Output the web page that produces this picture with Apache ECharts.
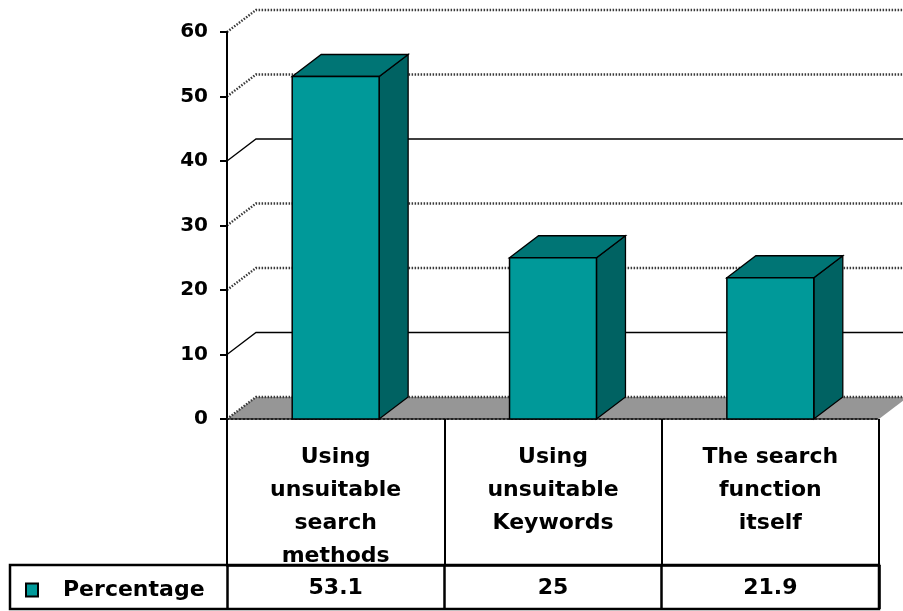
<!DOCTYPE html>
<html><head><meta charset="utf-8">
<script src="https://cdn.jsdelivr.net/npm/echarts@6/dist/echarts.min.js"></script>
<style>html,body{margin:0;padding:0;background:#fff}#c{width:903px;height:611px}</style>
</head><body><div id="c"></div>
<script>
// ---- data ----
const categories = ['Using\nunsuitable\nsearch\nmethods', 'Using\nunsuitable\nKeywords', 'The search\nfunction\nitself'];
const seriesName = 'Percentage';
const values = [53.1, 25, 21.9];
const valueLabels = ['53.1', '25', '21.9'];
const yTicks = [0, 10, 20, 30, 40, 50, 60];

// ---- styling ----
const DX = 29, DY = 22;
const FONT = 'DejaVu Sans';
const dottedTicks = [0, 20, 30, 50, 60];

const chart = echarts.init(document.getElementById('c'), null, {renderer: 'canvas'});

function wallItem(params, api) {
  const v = api.value(1);
  const cs = params.coordSys;
  const y = api.coord([0, v])[1];
  const x0 = cs.x, x1 = cs.x + cs.width;
  const children = [];
  if (v === 0) {
    children.push({type: 'polygon', shape: {points: [[x0, y], [x1, y], [x1 + DX, y - DY], [x0 + DX, y - DY]]},
      style: {fill: '#969696', stroke: null}});
  }
  const dotted = dottedTicks.indexOf(v) >= 0;
  children.push({type: 'polyline', shape: {points: [[x0, y], [x0 + DX, y - DY], [x1 + DX + 40, y - DY]]},
    style: {stroke: dotted ? '#3a3a3a' : '#000', lineWidth: dotted ? 2.4 : 1.3, lineDash: dotted ? [1.5, 1.5] : null, fill: null}});
  return {type: 'group', children};
}

function barItem(params, api) {
  const idx = api.value(0), v = api.value(1);
  const top = api.coord([idx, v]), base = api.coord([idx, 0]);
  const w = api.size([1, 0])[0] * 0.4;
  const xl = top[0] - w / 2, xr = top[0] + w / 2;
  const yt = top[1], yb = base[1];
  const stroke = '#000';
  return {type: 'group', children: [
    {type: 'polygon', shape: {points: [[xr, yt], [xr + DX, yt - DY], [xr + DX, yb - DY], [xr, yb]]},
      style: {fill: '#006262', stroke, lineWidth: 1.3}},
    {type: 'polygon', shape: {points: [[xl, yt], [xl + DX, yt - DY], [xr + DX, yt - DY], [xr, yt]]},
      style: {fill: '#007575', stroke, lineWidth: 1.3}},
    {type: 'rect', shape: {x: xl, y: yt, width: w, height: yb - yt},
      style: {fill: '#009999', stroke, lineWidth: 1.5}}
  ]};
}

const labelFont = {fontFamily: FONT, fontWeight: 'bold', fontSize: 22, color: '#000'};

chart.setOption({
  animation: false,
  backgroundColor: '#fff',
  grid: {left: 227, right: 24, top: 32, bottom: 192, containLabel: false},
  legend: {
    data: [{name: seriesName, icon: 'rect', itemStyle: {color: '#009999', borderColor: '#000', borderWidth: 2}}],
    left: 20, top: 574, itemWidth: 12, itemHeight: 13, z: 20,
    textStyle: Object.assign({}, labelFont, {padding: [0, 0, 0, 20]})
  },
  xAxis: [{
    type: 'category', data: categories, position: 'bottom', z: 1,
    axisLine: {show: true, lineStyle: {color: '#222', width: 2, type: 'dotted'}},
    axisTick: {show: true, length: 146, lineStyle: {color: '#000', width: 2}},
    axisLabel: Object.assign({}, labelFont, {margin: 22, lineHeight: 33, interval: 0}),
    splitLine: {show: false}
  }, {
    type: 'category', data: valueLabels, position: 'bottom', offset: 146, z: 10,
    axisLine: {show: true, lineStyle: {color: '#000', width: 2.5}},
    axisTick: {show: true, length: 44, lineStyle: {color: '#000', width: 2.5}},
    axisLabel: Object.assign({}, labelFont, {margin: 11, lineHeight: 24, interval: 0}),
    splitLine: {show: false}
  }],
  yAxis: {
    type: 'value', min: 0, max: 60, interval: 10, z: 1,
    axisLine: {show: true, lineStyle: {color: '#000', width: 2}},
    axisTick: {show: true, length: 7, lineStyle: {color: '#000', width: 2}},
    axisLabel: Object.assign({}, labelFont, {fontSize: 20, margin: 19}),
    splitLine: {show: false}
  },
  graphic: {elements: [
    {type: 'rect', z: 5, shape: {x: 10, y: 565, width: 869, height: 44},
      style: {fill: '#fff', stroke: '#000', lineWidth: 2.5}}
  ]},
  series: [{
    type: 'custom', name: 'walls', z: 0, clip: false, silent: true,
    renderItem: wallItem, encode: {x: 0, y: 1},
    data: yTicks.map(v => [0, v])
  }, {
    type: 'custom', name: seriesName, z: 3, clip: false,
    renderItem: barItem, encode: {x: 0, y: 1},
    data: values.map((v, i) => [i, v])
  }]
});
</script>
</body></html>
